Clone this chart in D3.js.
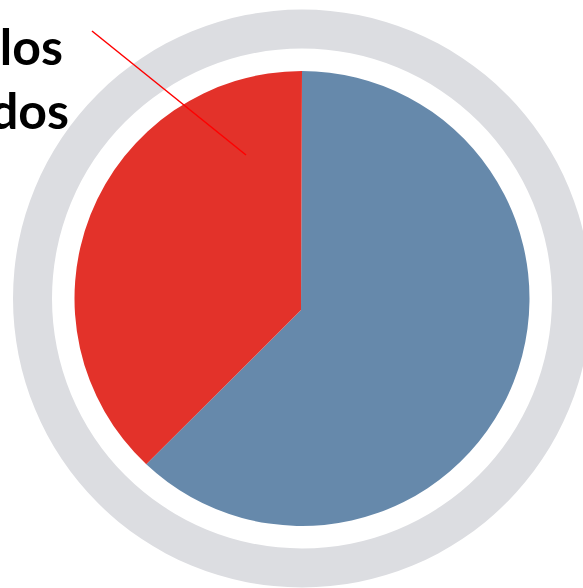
<!DOCTYPE html>
<html><head><meta charset="utf-8">
<script src="https://cdn.jsdelivr.net/npm/d3@7"></script>
<style>html,body{margin:0;padding:0;background:#fff;overflow:hidden}</style>
</head><body>
<svg id="c" width="583" height="588"></svg>
<script>
const categories = ["Blue", "Red"];
const values = [62, 38];
const labelLines = ["los", "dos"];
const colors = ["#6689ab", "#e3322a"];

const svg = d3.select("#c");
const cx = 302, cy = 298.5, r = 227.5;

// outer ring
svg.append("path")
  .attr("transform", `translate(${cx},${cy})`)
  .attr("d", d3.arc().innerRadius(250).outerRadius(289).startAngle(0).endAngle(2*Math.PI)())
  .attr("fill", "#dcdde1");

const pie = d3.pie().sort(null)(values);
const color = d3.scaleOrdinal().domain(categories).range(colors);

// slices share an apex slightly below the circle centre
const apex = [301, 310];
pie.forEach((p, i) => {
  const path = d3.path();
  const a0 = p.startAngle - Math.PI/2, a1 = p.endAngle - Math.PI/2;
  path.moveTo(apex[0], apex[1]);
  path.lineTo(cx + r*Math.cos(a0), cy + r*Math.sin(a0));
  path.arc(cx, cy, r, a0, a1);
  path.closePath();
  svg.append("path").attr("d", path.toString()).attr("fill", color(categories[i]));
});

// label lines
const ys = [65, 129], xs = [63, 69];
labelLines.forEach((t, i) => {
  svg.append("text").attr("x", xs[i]).attr("y", ys[i]).attr("text-anchor", "end")
    .attr("font-family", "Lato, sans-serif").attr("font-weight", 700).attr("font-size", 50)
    .attr("fill", "#000").text(t);
});

svg.append("line").attr("x1", 92).attr("y1", 31).attr("x2", 246).attr("y2", 155)
  .attr("stroke", "#ff0000").attr("stroke-width", 1.5);
</script>
</body></html>
